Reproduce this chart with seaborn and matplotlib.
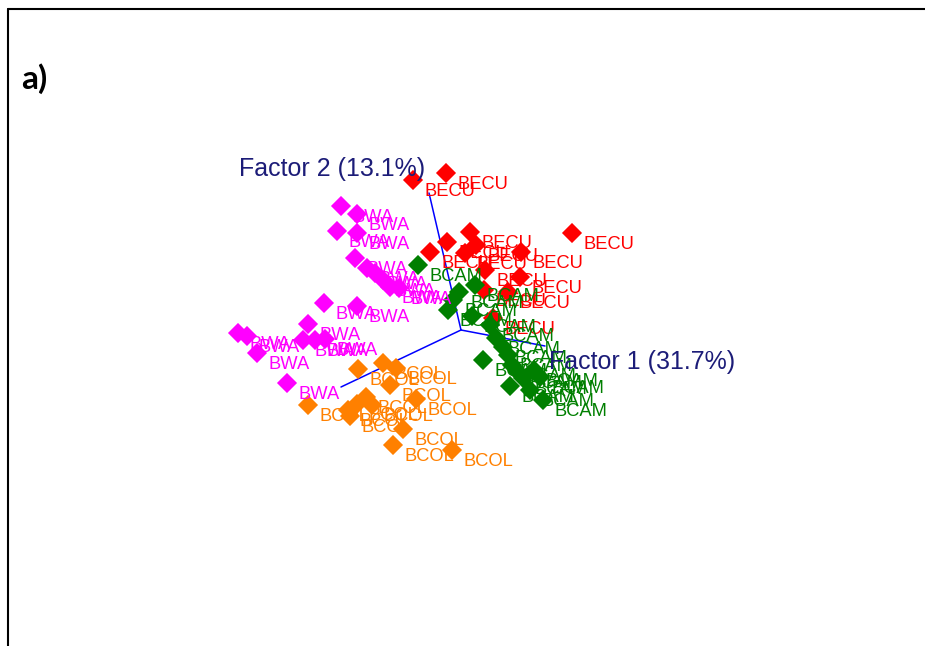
import numpy as np
import pandas as pd
import seaborn as sns
import matplotlib.pyplot as plt
from matplotlib.lines import Line2D

# Projected factor scores (Factor 1 / Factor 2 / Factor 3 view) per population
bwa_x = [-1.20, -1.04, -1.24, -1.04, -1.06, -0.94, -0.86, -0.78, -0.71, -0.62,
         -1.37, -1.04, -1.53, -2.23, -2.14, -1.58, -1.46, -1.36, -2.04, -1.74]
bwa_y = [1.24, 1.16, 0.99, 0.97, 0.72, 0.62, 0.57, 0.50, 0.43, 0.42,
         0.27, 0.24, 0.06, -0.03, -0.06, -0.10, -0.10, -0.09, -0.23, -0.53]

becu_x = [-0.48, -0.15, 1.11, 0.09, -0.14, -0.31, 0.15, 0.04, 0.60, 0.59,
          0.24, 0.47, 0.23, 0.32]
becu_y = [1.50, 1.57, 0.97, 0.98, 0.88, 0.78, 0.85, 0.77, 0.78, 0.53,
          0.60, 0.38, 0.40, 0.12]

bcam_x = [-0.43, 0.14, -0.02, -0.08, -0.13, 0.29, 0.35, 0.42, 0.22, 0.47,
          0.51, 0.57, 0.49, 0.73, 0.79, 0.62, 0.69, 0.82, 0.11]
bcam_y = [0.65, 0.45, 0.38, 0.30, 0.20, 0.05, -0.08, -0.17, -0.30, -0.25,
          -0.35, -0.42, -0.56, -0.40, -0.47, -0.48, -0.60, -0.70, 0.14]

bcol_x = [-1.53, -1.03, -0.78, -0.65, -0.71, -0.45, -0.95, -1.04, -1.13, -1.11,
          -0.58, -0.68, -0.09, -0.89]
bcol_y = [-0.75, -0.39, -0.33, -0.38, -0.55, -0.69, -0.67, -0.74, -0.80, -0.86,
          -0.99, -1.15, -1.20, -0.75]

groups = ["BWA", "BECU", "BCAM", "BCOL"]
colors = {"BWA": "#FF00FF", "BECU": "#FF0000", "BCAM": "#007F00", "BCOL": "#FF8000"}

# Projected ends of the factor axes
factor_names = ["Factor 1 (31.7%)", "Factor 2 (13.1%)", ""]
factor_end_x = [0.84, -0.32, -1.20]
factor_end_y = [-0.16, 1.37, -0.57]

df = pd.concat([
    pd.DataFrame({"x": bwa_x, "y": bwa_y, "group": "BWA"}),
    pd.DataFrame({"x": becu_x, "y": becu_y, "group": "BECU"}),
    pd.DataFrame({"x": bcam_x, "y": bcam_y, "group": "BCAM"}),
    pd.DataFrame({"x": bcol_x, "y": bcol_y, "group": "BCOL"}),
], ignore_index=True)

sns.set_style("white")
plt.rcParams["font.family"] = ["Liberation Sans", "DejaVu Sans"]

fig = plt.figure(figsize=(9.25, 6.46), dpi=100)
ax = fig.add_axes([0, 0, 1, 1])
ax.set_xlim(-4.61, 4.64)
ax.set_ylim(-3.16, 3.30)
ax.axis("off")

# Factor axes from the origin
for ex, ey, name in zip(factor_end_x, factor_end_y, factor_names):
    ax.plot([0, ex], [0, ey], color="#0000FF", lw=1.1, zorder=1)

sns.scatterplot(data=df, x="x", y="y", hue="group", palette=colors,
                hue_order=groups, marker="D", s=105, linewidth=0,
                legend=False, ax=ax, zorder=2)

# Point labels
for _, row in df.iterrows():
    ax.annotate(row["group"], (row["x"], row["y"]), xytext=(8.5, -8.5),
                textcoords="offset points", ha="left", va="center",
                fontsize=13.2, color=colors[row["group"]], zorder=3)

# Factor axis titles
ax.annotate(factor_names[0], (factor_end_x[0], factor_end_y[0]), xytext=(3, -11.5),
            textcoords="offset points", ha="left", va="center",
            fontsize=18, color="#1C1C78", zorder=4)
ax.annotate(factor_names[1], (factor_end_x[1], factor_end_y[1]), xytext=(-3, 17),
            textcoords="offset points", ha="right", va="center",
            fontsize=18, color="#1C1C78", zorder=4)

# Panel tag and frame
fig.text(21 / 925, 1 - 79 / 646, "a)", fontsize=24, fontweight="bold",
         color="black", family=["Lato", "DejaVu Sans"], ha="left", va="center")
fig.add_artist(Line2D([7.5 / 925, 7.5 / 925], [0, 1 - 8.5 / 646],
                      transform=fig.transFigure, color="black", lw=1.5))
fig.add_artist(Line2D([7.5 / 925, 1], [1 - 8.5 / 646, 1 - 8.5 / 646],
                      transform=fig.transFigure, color="black", lw=1.5))

fig.savefig("out.png", dpi=100, facecolor="white")
